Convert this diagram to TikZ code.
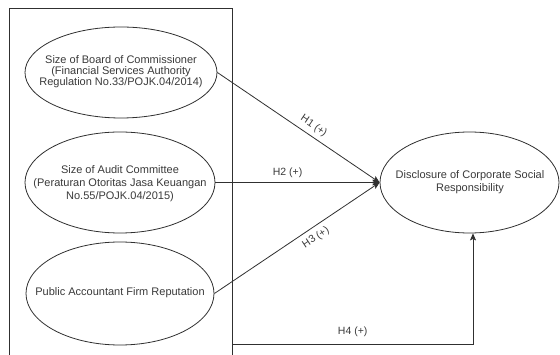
\documentclass[tikz,border=0pt]{standalone}
\usepackage{fontspec}
\setmainfont{Liberation Sans}
\usetikzlibrary{shapes.geometric,arrows.meta}
\definecolor{ink}{HTML}{303030}
\definecolor{txtc}{HTML}{3A3A3A}
\begin{document}
\begin{tikzpicture}[x=1pt,y=-1pt,
  bubble/.style={draw=ink, line width=0.8pt, ellipse, inner sep=0pt},
  txt/.style={text=txtc, align=center, inner sep=0pt},
  conn/.style={draw=ink, line width=0.8pt, -{Stealth[length=7pt,width=6pt,inset=1.5pt]}},
  hlab/.style={text=txtc, font=\fontsize{10.5}{12}\selectfont, inner sep=3pt}]
\useasboundingbox (0,0) rectangle (560,355);
\clip (0,0) rectangle (560,355);
\fill[white] (0,0) rectangle (560,355);
% outer box
\node[draw=ink, line width=0.8pt, minimum width=222.5pt, minimum height=354pt, inner sep=0pt] (box) at (120.75,185) {};
% left ellipses
\node[bubble, minimum width=192pt, minimum height=91pt] (e1) at (121,72.5) {};
\node[txt, font=\fontsize{11}{10.7}\selectfont] (e1t) at (121,71.5) {Size of Board of Commissioner\\(Financial Services Authority\\Regulation No.33/POJK.04/2014)};
\node[bubble, minimum width=190pt, minimum height=101pt] (e2) at (120,182.5) {};
\node[txt, font=\fontsize{11}{13}\selectfont] (e2t) at (120,183.5) {Size of Audit Committee\\(Peraturan Otoritas Jasa Keuangan\\No.55/POJK.04/2015)};
\node[bubble, minimum width=188pt, minimum height=103pt] (e3) at (120,293.5) {};
\node[txt, font=\fontsize{11}{13}\selectfont] (e3t) at (120,293) {Public Accountant Firm Reputation};
% target ellipse
\node[bubble, minimum width=179pt, minimum height=101pt] (target) at (469.5,182.5) {};
\node[txt, font=\fontsize{11}{13}\selectfont] (tt) at (470,182.5) {Disclosure of Corporate Social\\Responsibility};
% connectors
\draw[conn] (e1.east) -- node[hlab, sloped, above=1.5pt, pos=0.56] (l1) {H1 (+)} (target.west);
\draw[conn] (e2.east) -- node[hlab, above=1pt, pos=0.44] (l2) {H2 (+)} (target.west);
\draw[conn] (e3.east) -- node[hlab, sloped, below=2pt, pos=0.58] (l3) {H3 (+)} (target.west);
\coordinate (h4y) at (0,344);
\coordinate (h4s) at (box.east |- h4y);
\coordinate (h4e) at ([xshift=3.5pt]target.south);
\draw[conn] (h4s) -| node[hlab, above=4pt, pos=0.25] (l4) {H4 (+)} (h4e);
\end{tikzpicture}
\end{document}
